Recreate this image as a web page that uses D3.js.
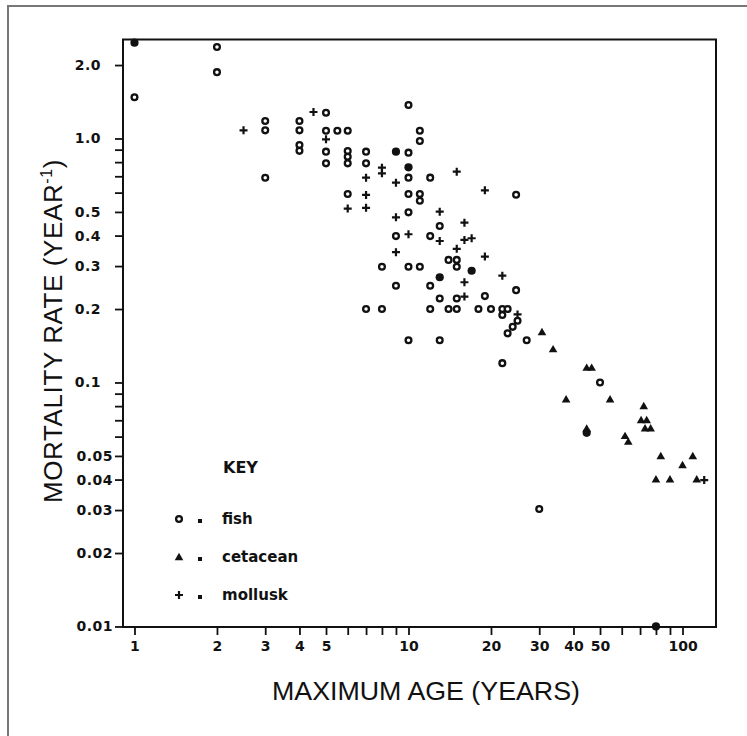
<!DOCTYPE html>
<html>
<head>
<meta charset="utf-8">
<script src="https://cdn.jsdelivr.net/npm/d3@7"></script>
<style>
  html, body { margin: 0; padding: 0; background: #fff; }
  svg { display: block; }
  text { fill: #111; }
</style>
</head>
<body>
<div id="chart"></div>
<script>
// ---------------- data ----------------
// fish (open symbols)
const fishAge  = [1.0, 2.0, 2.0, 3, 3, 3, 4, 4, 4, 4, 5, 5, 5.5, 6, 5, 5, 6, 6, 6, 7, 7, 6,
                  10, 10, 11, 11, 10, 12, 10, 11, 11, 24.7, 10, 13, 9, 12, 14, 15, 15, 8, 10, 11,
                  9, 12, 24.7, 13, 15, 19, 12, 14, 15, 18, 20, 22, 23, 22, 25, 24, 23, 27, 13, 22,
                  50, 30, 7, 8, 10];
const fishRate = [1.475, 2.37, 1.87, 1.18, 1.08, 0.69, 1.18, 1.08, 0.94, 0.89, 1.275, 1.076, 1.076, 1.076, 0.883, 0.791, 0.889, 0.842, 0.791, 0.883, 0.791, 0.592,
                  0.875, 1.372, 1.076, 0.977, 0.691, 0.691, 0.592, 0.592, 0.556, 0.588, 0.498, 0.438, 0.398, 0.398, 0.318, 0.318, 0.298, 0.298, 0.298, 0.298,
                  0.249, 0.249, 0.239, 0.221, 0.221, 0.226, 0.2, 0.2, 0.2, 0.2, 0.2, 0.2, 0.2, 0.189, 0.179, 0.169, 0.159, 0.149, 0.149, 0.12,
                  0.1, 0.0303, 0.2, 0.2, 0.149];
// fish (solid-looking symbols)
const fishSolidAge  = [1.0, 9, 10, 17, 13, 44.7, 80];
const fishSolidRate = [2.47, 0.883, 0.762, 0.287, 0.27, 0.0622, 0.01];
// cetaceans
const cetaceanAge  = [30.7, 33.7, 44.7, 46.6, 37.6, 54.4, 72.2, 70.6, 74, 73, 76.5, 44.7, 61.7, 63.4, 83.3, 109, 100, 80, 90, 112.7];
const cetaceanRate = [0.161, 0.137, 0.115, 0.115, 0.0853, 0.0853, 0.0801, 0.0702, 0.0702, 0.0649, 0.0649, 0.0648, 0.0604, 0.0572, 0.05, 0.05, 0.0459, 0.0401, 0.0401, 0.0401];
// mollusks
const molluskAge  = [2.5, 4.5, 5, 6, 7, 7, 7, 8, 8, 9, 15, 19, 9, 13, 16, 10, 13, 16, 17, 15, 9, 19, 22, 16, 16, 25, 120];
const molluskRate = [1.08, 1.284, 0.992, 0.516, 0.691, 0.587, 0.52, 0.759, 0.72, 0.659, 0.731, 0.613, 0.475, 0.501, 0.452, 0.405, 0.38, 0.384, 0.39, 0.353, 0.342, 0.328, 0.274, 0.2575, 0.225, 0.19, 0.0398];

// axes
const xMajorTicks = [1, 2, 3, 4, 5, 10, 20, 30, 40, 50, 100];
const xMajorLabels = ["1", "2", "3", "4", "5", "10", "20", "30", "40", "50", "100"];
const xMinorTicks = [6, 7, 8, 9, 60, 70, 80, 90];
const yMajorTicks = [2.0, 1.0, 0.5, 0.4, 0.3, 0.2, 0.1, 0.05, 0.04, 0.03, 0.02, 0.01];
const yMajorLabels = ["2.0", "1.0", "0.5", "0.4", "0.3", "0.2", "0.1", "0.05", "0.04", "0.03", "0.02", "0.01"];
const yMinorTicks = [0.9, 0.8, 0.7, 0.6, 0.09, 0.08, 0.07, 0.06];
const xDomain = [0.908, 132.5];
const yDomain = [0.00995, 2.545];

const legendLabels = ["fish", "cetacean", "mollusk"];
const legendTitle = "KEY";
const xTitle = "MAXIMUM AGE (YEARS)";

// ---------------- layout ----------------
const W = 747, H = 736;
const plot = { left: 123, right: 716, top: 39.5, bottom: 627 };
const tickFont = "'DejaVu Sans', 'Liberation Sans', sans-serif";
const titleFont = "'Liberation Sans', Arial, sans-serif";

const svg = d3.select("#chart").append("svg").attr("width", W).attr("height", H);

// outer frame (left/top edges visible)
svg.append("path")
  .attr("d", `M8,${H} L8,6 L${W},6`)
  .attr("fill", "none").attr("stroke", "#777").attr("stroke-width", 2);

const x = d3.scaleLog().domain(xDomain).range([plot.left, plot.right]);
const y = d3.scaleLog().domain(yDomain).range([plot.bottom, plot.top]);

// axes
const gx = svg.append("g").attr("transform", `translate(0,${plot.bottom})`);
gx.call(d3.axisBottom(x).tickValues(xMajorTicks).tickSize(8).tickPadding(6)
  .tickFormat((d, i) => xMajorLabels[i]));
const gxm = svg.append("g").attr("transform", `translate(0,${plot.bottom})`);
gxm.call(d3.axisBottom(x).tickValues(xMinorTicks).tickSize(8).tickFormat(""));

const gy = svg.append("g").attr("transform", `translate(${plot.left},0)`);
gy.call(d3.axisLeft(y).tickValues(yMajorTicks).tickSize(8).tickPadding(8)
  .tickFormat((d, i) => yMajorLabels[i]));
const gym = svg.append("g").attr("transform", `translate(${plot.left},0)`);
gym.call(d3.axisLeft(y).tickValues(yMinorTicks).tickSize(8).tickFormat(""));

svg.selectAll(".domain").remove();
svg.selectAll(".tick line").attr("stroke", "#111").attr("stroke-width", 1.8);
gx.selectAll(".tick text").style("font-family", tickFont).style("font-size", "14px").style("font-weight", "bold")
  .attr("fill", "#111");
gy.selectAll(".tick text").style("font-family", tickFont).style("font-size", "14px").style("font-weight", "bold")
  .attr("fill", "#111").style("letter-spacing", "0.5px")
  .attr("x", (d, i) => yMajorLabels[i].length > 3 ? -10 : -22);

// plot frame
svg.append("rect")
  .attr("x", plot.left).attr("y", plot.top)
  .attr("width", plot.right - plot.left).attr("height", plot.bottom - plot.top)
  .attr("fill", "none").attr("stroke", "#111").attr("stroke-width", 2);

// ---------------- symbols ----------------
const marks = svg.append("g");
function fishOpen(g, cx, cy) {
  g.append("circle").attr("cx", cx).attr("cy", cy).attr("r", 2.9)
    .attr("fill", "#fff").attr("stroke", "#111").attr("stroke-width", 2.3);
}
function fishSolid(g, cx, cy) {
  g.append("circle").attr("cx", cx).attr("cy", cy).attr("r", 4.1).attr("fill", "#111");
}
function tri(g, cx, cy) {
  g.append("path").attr("d", `M${cx},${cy - 4.2} L${cx + 4.3},${cy + 3.2} L${cx - 4.3},${cy + 3.2} Z`)
    .attr("fill", "#111");
}
function plus(g, cx, cy) {
  g.append("path").attr("d", `M${cx - 4},${cy} H${cx + 4} M${cx},${cy - 4} V${cy + 4}`)
    .attr("stroke", "#111").attr("stroke-width", 2.2).attr("fill", "none");
}

fishAge.forEach((a, i) => fishOpen(marks, x(a), y(fishRate[i])));
fishSolidAge.forEach((a, i) => fishSolid(marks, x(a), y(fishSolidRate[i])));
cetaceanAge.forEach((a, i) => tri(marks, x(a), y(cetaceanRate[i])));
molluskAge.forEach((a, i) => plus(marks, x(a), y(molluskRate[i])));

// ---------------- legend ----------------
const lg = svg.append("g");
lg.append("text").attr("x", 223).attr("y", 473).style("font-family", tickFont).style("font-size", "16px")
  .style("font-weight", "bold").text(legendTitle);
const rowY = [519, 557, 595];
const drawers = [fishOpen, tri, plus];
legendLabels.forEach((lab, i) => {
  drawers[i](lg, 179, rowY[i]);
  lg.append("rect").attr("x", 198).attr("y", rowY[i]).attr("width", 4).attr("height", 4).attr("fill", "#111");
  lg.append("text").attr("x", 222).attr("y", rowY[i] + 5).style("font-family", tickFont).style("font-size", "15px")
    .style("font-weight", "bold").text(lab);
});

// ---------------- titles ----------------
svg.append("text").attr("x", 426).attr("y", 700).attr("text-anchor", "middle")
  .style("font-family", titleFont).style("font-size", "26px")
  .attr("textLength", 308).attr("lengthAdjust", "spacingAndGlyphs")
  .text(xTitle);

const yt = svg.append("text").attr("transform", "translate(62,331) rotate(-90)")
  .attr("text-anchor", "middle").style("font-family", titleFont).style("font-size", "26px")
  .style("letter-spacing", "0.6px");
yt.append("tspan").text("MORTALITY RATE (YEAR");
yt.append("tspan").style("font-size", "16px").attr("dy", -10).text("-1");
yt.append("tspan").attr("dy", 10).text(")");
</script>
</body>
</html>
